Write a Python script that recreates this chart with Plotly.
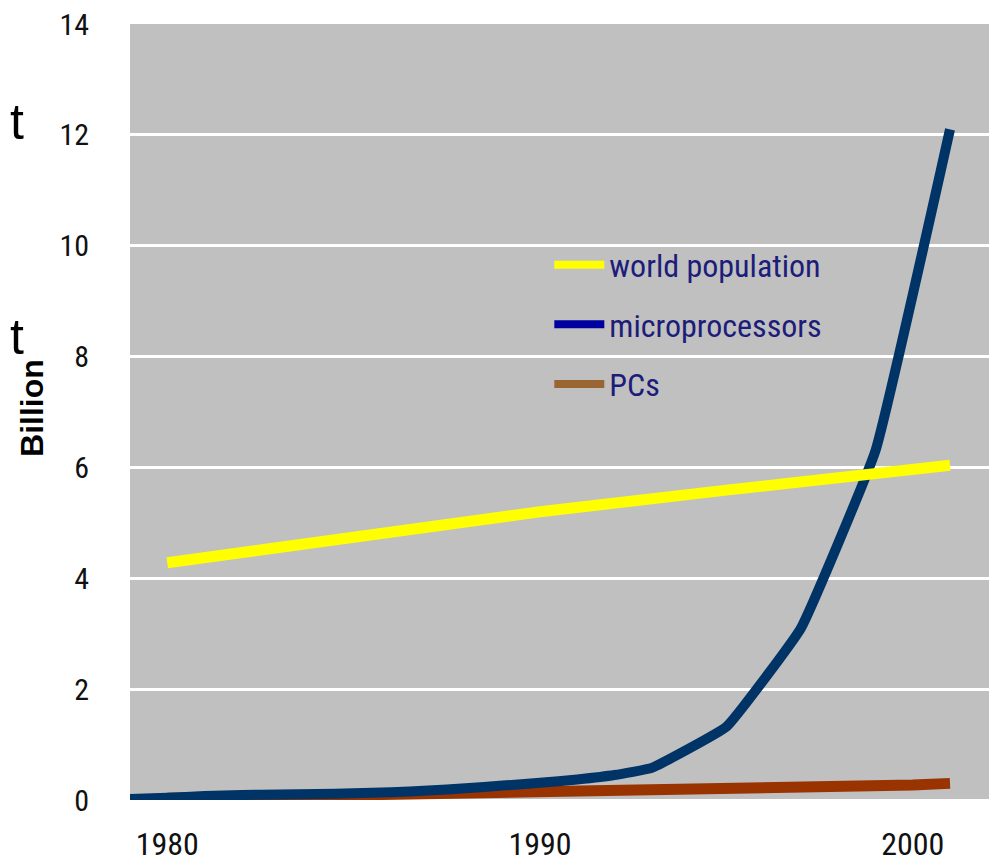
import plotly.graph_objects as go

# ---- data ----
pop_years = [1980, 1985, 1990, 1995, 2000, 2001]
world_population = [4.28, 4.73, 5.2, 5.59, 5.97, 6.04]

mp_years = [1979, 1980, 1981, 1982, 1983, 1984, 1985, 1986, 1987, 1988, 1989,
            1990, 1991, 1992, 1993, 1995, 1997, 1999, 2001]
microprocessors = [0.02, 0.04, 0.07, 0.09, 0.10, 0.11, 0.12, 0.14, 0.17, 0.21, 0.26,
                   0.31, 0.37, 0.45, 0.58, 1.32, 3.1, 6.3, 12.1]

pc_years = [1980, 1981, 1982, 1983, 1984, 1985, 1986, 1987, 1988, 1989, 1990,
            1991, 1992, 1993, 1994, 1995, 1996, 1997, 1998, 1999, 2000, 2001]
pcs = [0.03, 0.04, 0.05, 0.06, 0.08, 0.09, 0.10, 0.12, 0.14, 0.15, 0.16,
       0.17, 0.18, 0.19, 0.20, 0.21, 0.22, 0.23, 0.24, 0.25, 0.27, 0.30]

series_names = ["world population", "microprocessors", "PCs"]
x_tick_values = [1980, 1990, 2000]
x_tick_labels = ["1980", "1990", "2000"]
y_tick_values = [0, 2, 4, 6, 8, 10, 12, 14]
y_title = "Billion"

line_colors = ["#FFFF00", "#003366", "#993300"]
legend_colors = ["#FFFF00", "#0000A0", "#996633"]

NARROW = "Liberation Sans Narrow, Arial Narrow, Roboto Condensed, DejaVu Sans Condensed, sans-serif"

fig = go.Figure()

fig.add_trace(go.Scatter(x=pc_years, y=pcs, mode="lines", showlegend=False,
                         line=dict(color=line_colors[2], width=11), hoverinfo="skip"))
fig.add_trace(go.Scatter(x=mp_years, y=microprocessors, mode="lines", showlegend=False,
                         line=dict(color=line_colors[1], width=10, shape="spline", smoothing=0.3),
                         hoverinfo="skip"))
fig.add_trace(go.Scatter(x=pop_years, y=world_population, mode="lines", showlegend=False,
                         line=dict(color=line_colors[0], width=11), hoverinfo="skip"))

# legend-only entries (legend swatch colours differ slightly from the drawn lines)
for i, name in enumerate(series_names):
    fig.add_trace(go.Scatter(x=[None], y=[None], mode="lines", name=name,
                             legendgroup=f"g{i}",
                             line=dict(color=legend_colors[i], width=8)))

# the page body adds an 8px margin, so the figure is 8px smaller than the window
fig.update_layout(
    width=989, height=855,
    margin=dict(l=122, r=6, t=16, b=63, autoexpand=False),
    paper_bgcolor="white",
    plot_bgcolor="#C0C0C0",
    showlegend=True,
    legend=dict(
        x=0.487, y=0.725, xanchor="left", yanchor="top",
        bgcolor="rgba(0,0,0,0)",
        font=dict(family=NARROW, size=32, color="#1c1c7a"),
        tracegroupgap=15,
        itemwidth=50,
    ),
    xaxis=dict(
        range=[1979.0, 2002.1], automargin=False,
        tickvals=x_tick_values, ticktext=x_tick_labels,
        showgrid=False, zeroline=False, showline=False,
        ticks="", ticklabelstandoff=22, ticklabeloverflow="allow",
        tickfont=dict(family=NARROW, size=32, color="#111111"),
    ),
    yaxis=dict(
        range=[0, 14], automargin=False,
        tickvals=y_tick_values,
        showgrid=True, gridcolor="white", gridwidth=2.5,
        zeroline=True, zerolinecolor="white", zerolinewidth=2.5,
        showline=False, ticks="", ticklabelstandoff=40, ticklabeloverflow="allow",
        tickfont=dict(family=NARROW, size=30, color="#111111"),
    ),
)

# y-axis title placed as rotated text
fig.add_annotation(text=y_title, xref="paper", yref="paper", x=-0.114, y=0.505,
                   xanchor="center", yanchor="middle", textangle=-90, showarrow=False,
                   font=dict(family="Liberation Sans, Arial, sans-serif", size=32,
                             color="#000000", weight="bold"))

# fragments of cropped slide text at the left edge
for ypos in [0.874, 0.597]:
    fig.add_annotation(text="t", xref="paper", yref="paper", x=-0.1415, y=ypos,
                       xanchor="left", yanchor="middle", showarrow=False,
                       font=dict(family="Liberation Sans, Arial, sans-serif", size=50, color="#000000"))

fig.write_html("out.html")
